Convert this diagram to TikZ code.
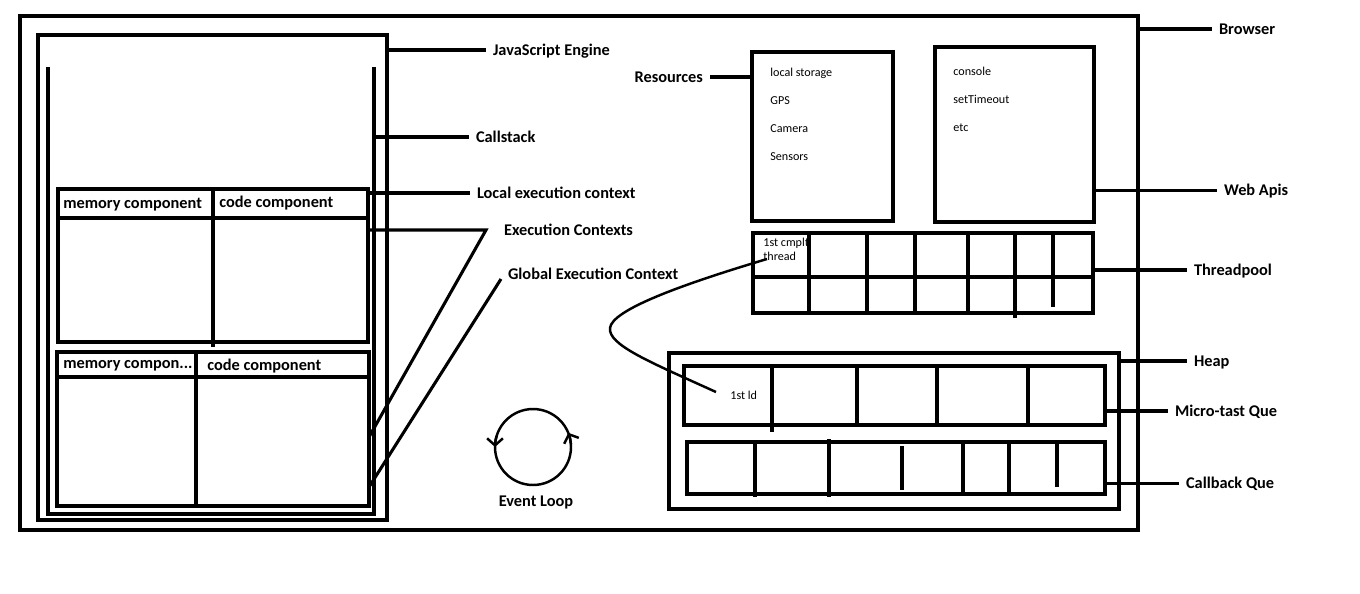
\documentclass[tikz,border=0pt]{standalone}
\usepackage{fontspec}
\setmainfont{Carlito}
\usetikzlibrary{arrows.meta,positioning,fit}

\begin{document}
\begin{tikzpicture}[x=0.02cm,y=-0.02cm,
  frame/.style={draw,line width=1.75pt,inner sep=0pt,outer sep=0pt},
  wire/.style={line width=1.75pt},
  pen/.style={line width=1.4pt},
  lbl/.style={font=\fontsize{9.3}{11}\selectfont\bfseries,inner sep=0pt,outer sep=4pt,text height=6pt,text depth=0pt,anchor=west},
  head/.style={font=\fontsize{9.3}{11}\selectfont\bfseries,inner sep=0pt,text height=6pt,text depth=0pt,anchor=west},
  item/.style={font=\fontsize{6.9}{7.6}\selectfont,inner sep=0pt,text height=4.5pt,text depth=0pt,anchor=west},
  note/.style={font=\fontsize{6.9}{7.8}\selectfont,inner sep=0pt,align=left,anchor=north west},
  loop/.style={pen,-{Straight Barb[length=4pt,width=9pt]}}]
\useasboundingbox (0,0) rectangle (1360,593);

\node[frame,fit={(20,16) (1138,530)}] (browser) {};
\node[frame,fit={(38,35) (387,520)}] (engine) {};
\node[inner sep=0pt,outer sep=0pt,fit={(48,67) (374,514)}] (callstack) {};
\draw[wire] (callstack.north west) |- (callstack.south east) -- (callstack.north east);

\node[frame,fit={(58,189) (368,342)}] (localec) {};
\draw[wire] (localec.west |- 0,218) -- (localec.east |- 0,218);
\draw[wire] (213,187) -- (213,347);
\node[head] (localmem) at (63,203) {memory component};
\node[head] (localcode) at (219,202) {code component};

\node[frame,fit={(57,352) (369,506)}] (globalec) {};
\draw[wire] (globalec.west |- 0,377) -- (globalec.east |- 0,377);
\draw[wire] (196,352) -- (196,506);
\node[head] (globalmem) at (63,363) {memory compon...};
\node[head] (globalcode) at (207,365) {code component};

\node[frame,fit={(752,52) (893,221)}] (resources) {};
\node[item] (storage) at (770,73) {local storage};
\node[item] (gps) at (770,101) {GPS};
\node[item] (camera) at (770,128.5) {Camera};
\node[item] (sensors) at (770,156.5) {Sensors};

\node[frame,fit={(935,47) (1094,222)}] (webapis) {};
\node[item] (console) at (953,72) {console};
\node[item] (timeout) at (953,100) {setTimeout};
\node[item] (etc) at (953,127.5) {etc};

\node[frame,fit={(753,233) (1093,313)}] (threadpool) {};
\draw[wire] (threadpool.west |- 0,277) -- (threadpool.east |- 0,277);
\foreach \x/\ya/\yb in {809/233/315, 867/233/313, 915/233/313, 968/231/313, 1015/233/318, 1053/231/307}
  \draw[wire] (\x,\ya) -- (\x,\yb);
\node[note] (firstthread) at (763,238) {1st cmplt\\thread};

\node[frame,fit={(669,353) (1119,509)}] (heap) {};
\node[frame,fit={(684,366) (1105,425)}] (microtask) {};
\foreach \x/\ya/\yb in {772/366/432, 857/366/425, 937/366/425, 1028/366/425}
  \draw[wire] (\x,\ya) -- (\x,\yb);
\node[item] (firstld) at (730,396) {1st ld};
\node[frame,fit={(687,442) (1105,494)}] (callback) {};
\foreach \x/\ya/\yb in {755/442/497, 829/439/497, 902/446/490, 963/442/494, 1009/442/494, 1057/442/487}
  \draw[wire] (\x,\ya) -- (\x,\yb);

\coordinate (ldtail) at (716,392);
\coordinate (threadtail) at (767,259);
\draw[pen] (ldtail) .. controls (650,362) and (608,345) .. (610,328) .. controls (612,310) and (680,285) .. (threadtail);

\node[draw,pen,circle,inner sep=0pt,minimum size=1.52cm] (evloop) at (533,447) {};
\draw[loop] ([shift={(197:38)}]evloop.center) arc[start angle=197,end angle=180,radius=38];
\draw[loop] ([shift={(-4:38)}]evloop.center) arc[start angle=-4,end angle=-22,radius=38];
\node[lbl,anchor=center] (looplbl) at (536,501) {Event Loop};

\node[lbl] (browserlbl) at (1212,29) {Browser};
\node[lbl] (enginelbl) at (486,50) {JavaScript Engine};
\node[lbl] (callstacklbl) at (469,137) {Callstack};
\node[lbl] (locallbl) at (470,193) {Local execution context};
\node[lbl] (execlbl) at (497,230) {Execution Contexts};
\node[lbl] (globallbl) at (501,274) {Global Execution Context};
\node[lbl,anchor=east] (resourceslbl) at (710,77) {Resources};
\node[lbl] (webapislbl) at (1217,190.5) {Web Apis};
\node[lbl] (threadpoollbl) at (1187,270) {Threadpool};
\node[lbl] (heaplbl) at (1187,361) {Heap};
\node[lbl] (microlbl) at (1168,411) {Micro-tast Que};
\node[lbl] (callbacklbl) at (1179,483.5) {Callback Que};

\draw[wire] (browser.east |- browserlbl.west) -- (browserlbl.west);
\draw[wire] (engine.east |- enginelbl.west) -- (enginelbl.west);
\draw[wire] (callstack.east |- callstacklbl.west) -- (callstacklbl.west);
\draw[wire] (localec.east |- locallbl.west) -- (locallbl.west);
\coordinate (execbend) at (486,230);
\draw[wire] (localec.east |- execbend) -- (execbend) -- (globalec.east |- 0,437);
\coordinate (globalbend) at (501,279);
\draw[wire] (globalbend) -- (globalec.east |- 0,487);
\draw[wire] (resources.west |- resourceslbl.east) -- (resourceslbl.east);
\draw[wire] (webapis.east |- webapislbl.west) -- (webapislbl.west);
\draw[wire] (threadpool.east |- threadpoollbl.west) -- (threadpoollbl.west);
\draw[wire] (heap.east |- heaplbl.west) -- (heaplbl.west);
\draw[wire] (microtask.east |- microlbl.west) -- (microlbl.west);
\draw[wire] (callback.east |- callbacklbl.west) -- (callbacklbl.west);
\end{tikzpicture}
\end{document}
